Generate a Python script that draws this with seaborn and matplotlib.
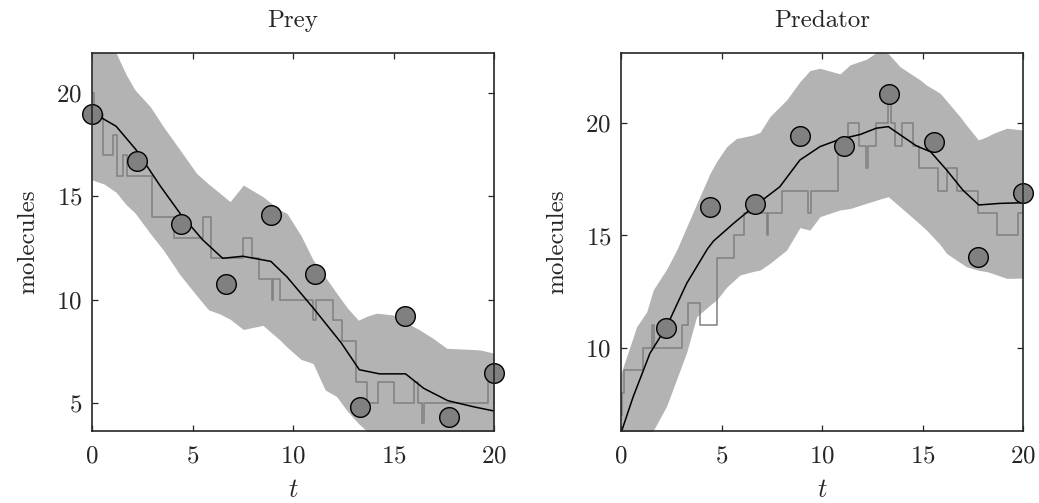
import numpy as np
import pandas as pd
import matplotlib
matplotlib.use("Agg")
import matplotlib.pyplot as plt
import seaborn as sns

# ---- observations (noisy measurements at 10 time points) ----
obs_t = [0.0, 2.22, 4.44, 6.67, 8.89, 11.11, 13.33, 15.56, 17.78, 20.0]
prey_obs = [19.0, 16.7, 13.65, 10.75, 14.1, 11.25, 4.8, 9.2, 4.3, 6.45]
pred_obs_t = [2.22, 4.44, 6.67, 8.89, 11.11, 13.33, 15.56, 17.78, 20.0]
pred_obs = [10.9, 16.28, 16.4, 19.43, 18.99, 21.29, 19.18, 14.06, 16.91]

# ---- posterior mean trajectory ----
prey_mean_t = [0, 0.4, 1.2, 2.2, 3.4, 4.4, 5.5, 6.5, 7.5, 8.9, 9.7, 11.0,
               12.4, 13.3, 14.3, 15.6, 16.5, 17.7, 19.0, 20]
prey_mean = [19.0, 18.85, 18.4, 17.25, 15.5, 14.15, 12.9, 12.0, 12.1, 11.85,
             11.1, 9.6, 7.9, 6.6, 6.4, 6.4, 5.7, 5.1, 4.8, 4.6]
pred_mean_t = [0, 0.6, 1.44, 2.27, 3.27, 4.3, 4.6, 5.6, 6.6, 7.9, 8.9, 9.9,
               10.9, 11.9, 12.7, 13.3, 13.9, 14.7, 15.4, 16.2, 17.0, 17.8,
               18.85, 20]
pred_mean = [6.2, 7.8, 9.75, 10.94, 12.87, 14.4, 14.75, 15.54, 16.28, 17.17,
             18.36, 18.96, 19.29, 19.5, 19.78, 19.85, 19.48, 18.99, 18.73,
             17.92, 17.03, 16.36, 16.43, 16.46]

# ---- credible band ----
prey_band_t = [0, 0.6, 1.2, 1.7, 2.14, 2.9, 3.55, 4.38, 5.2, 5.8, 6.37, 6.87,
               7.53, 8.5, 9.35, 9.7, 10.4, 11.0, 11.6, 12.17, 12.7, 13.25,
               13.7, 14.16, 15.0, 15.6, 16.3, 17.0, 17.65, 18.5, 19.3, 20]
prey_upper = [23.5, 22.7, 21.95, 20.9, 20.16, 19.35, 18.38, 17.25, 16.12,
              15.6, 15.15, 14.75, 15.55, 14.99, 14.34, 14.18, 13.1, 11.92,
              11.1, 10.31, 9.6, 9.0, 9.2, 9.34, 9.25, 8.9, 8.53, 8.1, 7.64,
              7.6, 7.56, 7.4]
prey_lower = [15.8, 15.6, 15.2, 14.6, 14.2, 13.2, 12.4, 11.2, 10.2, 9.5,
              9.3, 9.05, 8.55, 8.75, 8.04, 7.7, 7.1, 6.9, 5.62, 5.3, 4.6, 4.0,
              3.6, 3.4, 3.2, 3.0, 2.9, 2.8, 2.7, 2.7, 2.6, 2.6]

pred_band_t = [0, 0.78, 1.28, 1.6, 2.27, 2.77, 3.27, 3.76, 4.43, 4.76, 5.26,
               5.75, 5.92, 6.58, 6.92, 7.41, 8.24, 8.9, 9.4, 9.9, 10.9,
               11.39, 12.2, 12.8, 13.3, 13.88, 14.88, 15.2, 15.87, 16.2,
               16.86, 17.2, 17.78, 18.2, 18.52, 19.19, 20]
pred_upper = [8.86, 10.94, 11.6, 12.57, 13.5, 14.35, 15.39, 16.4, 17.77,
              18.3, 18.96, 19.33, 19.35, 19.48, 19.6, 20.3, 21.04, 21.85,
              22.35, 22.45, 22.2, 22.6, 22.85, 23.2, 23.1, 22.52, 21.93,
              21.7, 21.34, 21.0, 20.3, 19.9, 19.26, 19.4, 19.55, 19.78, 19.7]
pred_lower = [5.0, 5.6, 6.0, 6.3, 7.4, 8.6, 9.8, 11.38, 11.9, 12.13, 12.7,
              13.1, 13.24, 13.4, 13.46, 13.76, 14.35, 15.35, 15.24, 15.84,
              16.14, 16.2, 16.43, 16.6, 16.73, 16.28, 15.5, 15.24, 14.6,
              14.2, 13.8, 13.6, 13.45, 13.39, 13.3, 13.09, 13.1]

# ---- one stochastic realisation (piecewise constant) ----
prey_jump_t = [0, 0.08, 0.53, 1.03, 1.26, 1.53, 1.72, 2.97, 4.08, 5.54, 5.9,
               7.5, 7.95, 8.3, 8.95, 9.02, 9.35, 11.0, 11.15, 12.0, 12.42,
               13.13, 13.67, 14.25, 15.0, 16.02, 16.24, 16.42, 16.5, 19.72,
               20.0]
prey_jump_v = [20, 19, 17, 18, 16, 17, 16, 14, 13, 14, 12, 13, 12, 11, 10, 11,
               10, 9, 10, 9, 8, 6, 5, 6, 5, 6, 5, 4, 5, 6, 6]
pred_jump_t = [0, 0.05, 0.15, 1.11, 1.55, 1.65, 3.02, 3.35, 3.93, 4.76, 4.78,
               4.8, 5.62, 6.12, 7.25, 7.33, 8.02, 9.32, 9.45, 10.78, 10.82,
               11.3, 11.86, 12.2, 12.3, 12.7, 13.3, 13.42, 13.63, 13.96,
               14.51, 14.84, 15.79, 16.2, 16.7, 17.78, 18.69, 19.77, 20.0]
pred_jump_v = [7, 8, 9, 10, 11, 10, 11, 12, 11, 12, 13, 14, 15, 16, 15, 16,
               17, 16, 17, 18, 19, 20, 19, 18, 19, 20, 21, 20, 19, 20, 19, 18,
               17, 18, 17, 16, 15, 16, 16]

sns.set_style("ticks")
plt.rcParams.update({
    "font.family": "serif",
    "font.serif": ["cmr10"],
    "mathtext.fontset": "cm",
    "axes.formatter.use_mathtext": True,
    "axes.linewidth": 1.2,
    "xtick.direction": "in",
    "ytick.direction": "in",
    "xtick.top": True,
    "ytick.right": True,
    "xtick.major.size": 4,
    "ytick.major.size": 4,
    "xtick.major.width": 0.9,
    "ytick.major.width": 0.9,
})

W, H = 1039, 503
fig = plt.figure(figsize=(W / 100, H / 100), dpi=100)
ax_prey = fig.add_axes([92 / W, (H - 431) / H, 402 / W, 378 / H])
ax_pred = fig.add_axes([621 / W, (H - 431) / H, 402 / W, 378 / H])

band_color = "#b3b3b3"
step_color = "#808080"
dot_color = "#808080"
FS = 18


def draw_panel(ax, band_t, lower, upper, jump_t, jump_v, mean_t, mean_v,
               ot, ov, title, ylim, yticks):
    ax.fill_between(band_t, lower, upper, color=band_color, lw=0, zorder=1)
    steps = pd.DataFrame({"t": jump_t, "n": jump_v})
    sns.lineplot(data=steps, x="t", y="n", ax=ax, color=step_color, lw=1.1,
                 drawstyle="steps-post", zorder=2, estimator=None)
    mean = pd.DataFrame({"t": mean_t, "n": mean_v})
    sns.lineplot(data=mean, x="t", y="n", ax=ax, color="black", lw=1.1,
                 zorder=3, estimator=None)
    pts = pd.DataFrame({"t": ot, "n": ov})
    sns.scatterplot(data=pts, x="t", y="n", ax=ax, s=200, color=dot_color,
                    edgecolor="black", linewidth=1.0, zorder=4, clip_on=False)
    ax.set_xlim(0, 20)
    ax.set_ylim(*ylim)
    ax.set_xticks([0, 5, 10, 15, 20])
    ax.set_yticks(yticks)
    ax.tick_params(axis="x", labelsize=FS, pad=10)
    ax.tick_params(axis="y", labelsize=FS, pad=7)
    ax.set_title(title, fontsize=FS, pad=19)
    ax.set_xlabel(r"$t$", fontsize=FS + 1, labelpad=8)
    ax.set_ylabel("molecules", fontsize=FS, labelpad=12)
    for s in ax.spines.values():
        s.set_visible(True)
        s.set_zorder(5)


draw_panel(ax_prey, prey_band_t, prey_lower, prey_upper, prey_jump_t,
           prey_jump_v, prey_mean_t, prey_mean, obs_t, prey_obs, "Prey",
           (3.63, 21.95), [5, 10, 15, 20])
draw_panel(ax_pred, pred_band_t, pred_lower, pred_upper, pred_jump_t,
           pred_jump_v, pred_mean_t, pred_mean, pred_obs_t, pred_obs,
           "Predator", (6.29, 23.13), [10, 15, 20])

fig.savefig("out.png", dpi=100)
